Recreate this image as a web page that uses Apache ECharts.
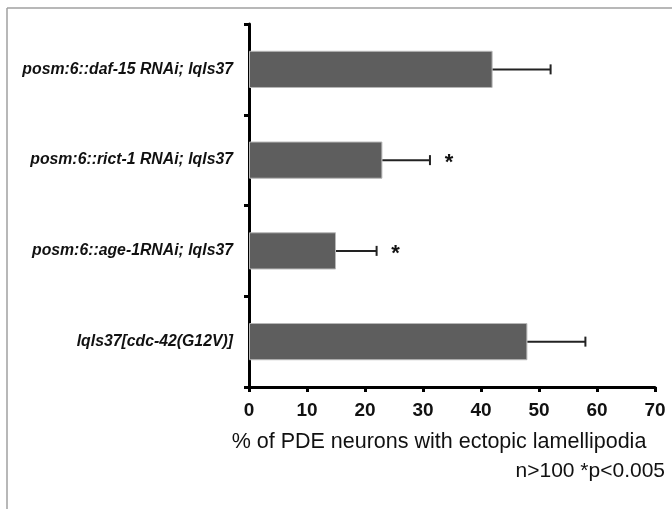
<!DOCTYPE html>
<html>
<head>
<meta charset="utf-8">
<script src="https://cdn.jsdelivr.net/npm/echarts@6/dist/echarts.min.js"></script>
<style>
html,body{margin:0;padding:0;background:#fff;}
#main{width:672px;height:509px;}
</style>
</head>
<body>
<div id="main"></div>
<script>
// strains, bottom to top (category axis runs upward)
var strains = ['lqls37[cdc-42(G12V)]', 'posm:6::age-1RNAi; lqls37', 'posm:6::rict-1 RNAi; lqls37', 'posm:6::daf-15 RNAi; lqls37'];
var pct = [48, 15, 23, 42];
var errTop = [58, 22, 31.2, 52];
var signif = ['', '*', '*', ''];
var xTicks = [0, 10, 20, 30, 40, 50, 60, 70];

var chart = echarts.init(document.getElementById('main'));

var errData = [];
for (var i = 0; i < strains.length; i++) {
	errData.push([i, pct[i], errTop[i], signif[i]]);
}

var option = {
	animation: false,
	textStyle: { fontFamily: 'Liberation Sans, Arial, sans-serif' },
	grid: { left: 249, right: 17, top: 24, bottom: 122 },
	graphic: [
		// grey frame of the original figure (left and top edges)
		{ type: 'line', shape: { x1: 7, y1: 8, x2: 672, y2: 8 }, style: { stroke: '#a0a0a0', lineWidth: 1.5 } },
		{ type: 'line', shape: { x1: 7, y1: 8, x2: 7, y2: 509 }, style: { stroke: '#a0a0a0', lineWidth: 1.5 } },
		{ type: 'text', right: 7, top: 461, style: { text: 'n>100 *p<0.005', font: '21px Liberation Sans, Arial, sans-serif', fill: '#111' } }
	],
	xAxis: {
		type: 'value',
		min: 0, max: 70, interval: 10,
		name: '% of PDE neurons with ectopic lamellipodia',
		nameLocation: 'middle',
		nameGap: 44,
		nameTextStyle: { fontSize: 21.5, color: '#111', padding: [0, 26, 0, 0] },
		splitLine: { show: false },
		axisLine: { show: true, lineStyle: { color: '#000', width: 3 } },
		axisTick: { show: true, length: 5, lineStyle: { color: '#000', width: 3 } },
		axisLabel: {
			margin: 14, fontSize: 19, fontWeight: 'bold', color: '#111',
			formatter: function (v) { return xTicks.indexOf(v) >= 0 ? String(v) : ''; }
		}
	},
	yAxis: {
		type: 'category',
		data: strains,
		axisLine: { show: true, lineStyle: { color: '#000', width: 3 } },
		axisTick: { show: true, length: 5, lineStyle: { color: '#000', width: 3 } },
		axisLabel: { margin: 16, fontSize: 15.8, fontWeight: 'bold', fontStyle: 'italic', color: '#111' }
	},
	series: [
		{
			type: 'bar',
			data: pct,
			barWidth: '41%',
			itemStyle: { color: '#5e5e5e', borderColor: '#b8b8b8', borderWidth: 1 },
			z: 2
		},
		{
			type: 'custom',
			data: errData,
			z: 3,
			renderItem: function (params, api) {
				var c = api.value(0);
				var p0 = api.coord([api.value(1), c]);
				var p1 = api.coord([api.value(2), c]);
				var children = [
					{ type: 'line', shape: { x1: p0[0], y1: p0[1], x2: p1[0], y2: p1[1] }, style: { stroke: '#222', lineWidth: 2 } },
					{ type: 'line', shape: { x1: p1[0], y1: p1[1] - 5, x2: p1[0], y2: p1[1] + 5 }, style: { stroke: '#222', lineWidth: 2 } }
				];
				var s = api.value(3);
				if (s) {
					children.push({
						type: 'text',
						style: { text: s, x: p1[0] + 19, y: p1[1] + 3, align: 'center', verticalAlign: 'middle', font: 'bold 22px Liberation Sans, Arial, sans-serif', fill: '#111' }
					});
				}
				return { type: 'group', children: children };
			}
		}
	]
};

chart.setOption(option);
</script>
</body>
</html>
